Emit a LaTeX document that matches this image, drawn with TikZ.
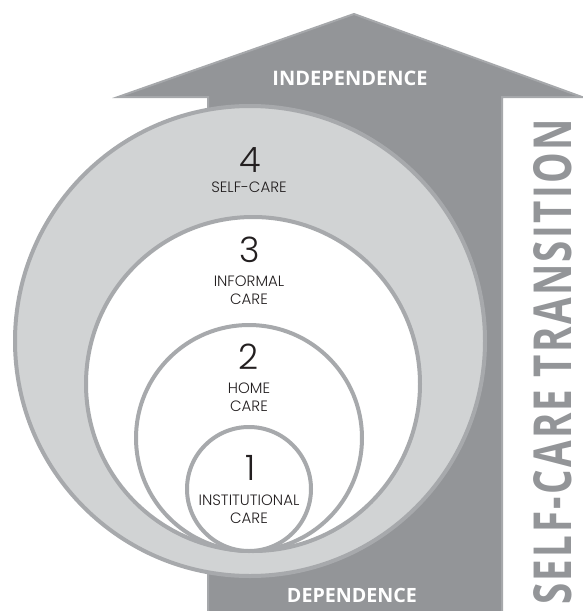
\documentclass[tikz,border=0pt]{standalone}
\usepackage{graphicx}
\usepackage{fontspec}
\setmainfont{Open Sans}
\newfontfamily\labfont{Poppins Light}
\newfontfamily\boldfont{Open Sans}[UprightFont=* Bold]
\definecolor{arrowgray}{HTML}{939598}
\definecolor{arrowedge}{HTML}{A6A8AB}
\definecolor{ltgray}{HTML}{D1D3D4}
\definecolor{ringgray}{HTML}{A7A9AC}
\definecolor{txt}{HTML}{231F20}
\begin{document}
\begin{tikzpicture}[x=1pt,y=-1pt,
  ring/.style={circle, draw=ringgray, line width=4pt, inner sep=0pt},
  num/.style={font=\labfont\fontsize{35}{35}\selectfont, text=txt, inner sep=0pt},
  lab/.style={font=\labfont\fontsize{15}{17.5}\selectfont, text=txt, align=center, inner sep=0pt},
  bigword/.style={font=\boldfont, text=white, inner sep=0pt}]
\useasboundingbox (0,0) rectangle (583,611);
% arrow
\fill[arrowgray, draw=arrowedge, line width=2pt]
  (354,14) -- (582,97) -- (502,97) -- (502,616) -- (208,616) -- (208,97) -- (118,97) -- cycle;
% circles
\node[ring, fill=ltgray, minimum size=470pt] (c4) at (250,341) {};
\node[ring, fill=white, minimum size=334pt] (c3) at (253,384) {};
\node[ring, fill=white, minimum size=226pt] (c2) at (249,438) {};
\node[ring, fill=white, minimum size=124pt] (c1) at (249,489) {};
% labels
\node[num] (n4) at (250,160) {4};
\node[lab] (l4) at (249,187) {SELF-CARE};
\node[num] (n3) at (250,250) {3};
\node[lab] (l3) at (249,290) {INFORMAL\\CARE};
\node[num] (n2) at (249,357) {2};
\node[lab] (l2) at (249,397) {HOME\\CARE};
\node[num] (n1) at (251,468) {1};
\node[lab] (l1) at (249,509) {INSTITUTIONAL\\CARE};
% arrow words
\node[bigword] (indep) at (350,78) {\resizebox{155pt}{!}{INDEPENDENCE}};
\node[bigword] (dep) at (352,595) {\resizebox{130pt}{!}{DEPENDENCE}};
\node[font=\boldfont, text=arrowgray, inner sep=0pt, rotate=90] (sct) at (553,362)
  {\resizebox{485pt}{38pt}{\addfontfeature{LetterSpace=6}SELF-CARE TRANSITION}};
\end{tikzpicture}
\end{document}
